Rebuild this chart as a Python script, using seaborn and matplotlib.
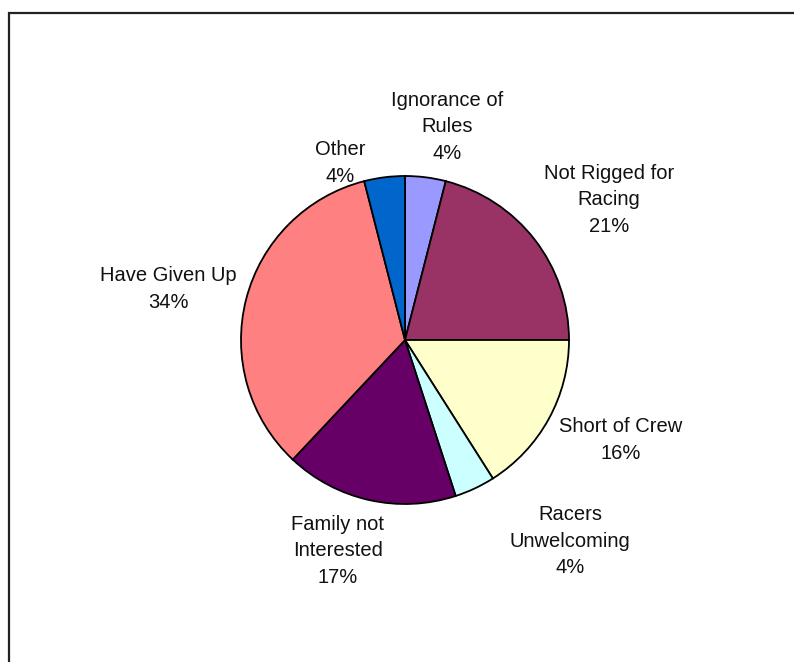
import matplotlib
matplotlib.use("Agg")
from matplotlib import pyplot as plt
from matplotlib.patches import Rectangle
import seaborn as sns

sns.set_theme(style="white")
plt.rcParams['font.family'] = ['Liberation Sans', 'DejaVu Sans']

# Data
categories = ["Ignorance of\nRules", "Not Rigged for\nRacing", "Short of Crew",
              "Racers\nUnwelcoming", "Family not\nInterested", "Have Given Up", "Other"]
shares = [4, 21, 16, 4, 17, 34, 4]
colors = ["#9999FF", "#993366", "#FFFFCC", "#CCFFFF", "#660066", "#FF8080", "#0066CC"]

# label positions in pie radius units
label_xy = [(0.256, 1.30), (1.244, 0.854), (1.317, -0.61), (1.006, -1.226),
            (-0.409, -1.285), (-1.445, 0.31), (-0.396, 1.08)]

fig = plt.figure(figsize=(7.94, 6.62), dpi=100)
fig.patch.set_facecolor("white")

# chart border (runs off the right and bottom of the image)
fig.patches.append(Rectangle((9 / 794, -0.05), 1.2, (662 - 13) / 662 + 0.05,
                             transform=fig.transFigure, fill=False,
                             edgecolor="#222222", linewidth=1.6))

# axes: pie center at (405, 340) px, radius 164 px
r = 164
ax = fig.add_axes([(405 - r) / 794, (662 - 340 - r) / 662, 2 * r / 794, 2 * r / 662])
ax.pie(shares, colors=colors, startangle=90, counterclock=False, radius=1,
       wedgeprops=dict(edgecolor="black", linewidth=1.3))
ax.set_xlim(-1, 1)
ax.set_ylim(-1, 1)
ax.set_aspect("auto")

for cat, val, (x, y) in zip(categories, shares, label_xy):
    ax.text(x, y, f"{cat}\n{val}%", ha="center", va="center", fontsize=14.5,
            linespacing=1.5, color="#111111", clip_on=False)

fig.savefig("out.png", dpi=100)
